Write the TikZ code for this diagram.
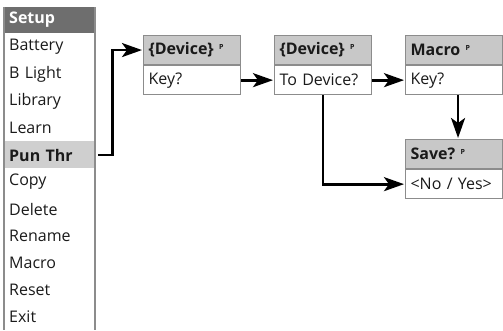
\documentclass[tikz,border=0pt]{standalone}
\usepackage{fontspec}
\setmainfont{Open Sans}
\usetikzlibrary{arrows.meta,positioning}
\definecolor{menuhead}{HTML}{6E6E6E}
\definecolor{hilite}{HTML}{CFCFCF}
\definecolor{boxgray}{HTML}{C8C8C8}
\definecolor{frame}{HTML}{8C8C8C}
\definecolor{txt}{HTML}{1A1A1A}
\newcommand{\protmark}{\ \raisebox{5pt}{\fontsize{7}{7}\selectfont\bfseries P}}

\begin{document}
\begin{tikzpicture}[x=1pt,y=-1pt,
	item/.style={anchor=west,inner sep=0pt,text width=86pt,align=left,text=txt,font=\fontsize{16}{16}\selectfont},
	boxhead/.style={draw=frame,line width=1.1pt,fill=boxgray,minimum width=97pt,minimum height=29pt,text width=87pt,inner xsep=5pt,align=left,text=txt,font=\fontsize{16}{16}\selectfont\bfseries},
	boxbody/.style={boxhead,fill=white,font=\fontsize{16}{16}\selectfont},
	link/.style={line width=2.7pt,-{Stealth[length=20pt,width=14pt,inset=5pt]},shorten >=1pt}]
					\useasboundingbox (0,0) rectangle (503,330);
					% menu
					\fill[menuhead] (4,7) rectangle (95,33);
					\fill[hilite] (4,141) rectangle (95,168);
					\draw[frame,line width=1.2pt] (4,7) -- (4,330);
					\draw[frame,line width=1.2pt] (95,7) -- (95,330);
					\path (9,20) node[item,text=white,font=\fontsize{16}{16}\selectfont\bfseries] (setup) {Setup};
					\path (9,47) node[item] (battery) {Battery};
					\path (9,74) node[item] (blight) {B Light};
					\path (9,101) node[item] (library) {Library};
					\path (9,128) node[item] (learn) {Learn};
					\path (9,155) node[item,font=\fontsize{16}{16}\selectfont\bfseries] (punthr) {Pun Thr};
					\path (9,182) node[item] (copy) {Copy};
					\path (9,209) node[item] (delete) {Delete};
					\path (9,236) node[item] (rename) {Rename};
					\path (9,263) node[item] (macro) {Macro};
					\path (9,290) node[item] (reset) {Reset};
					\path (9,317) node[item] (exit) {Exit};
					
					% screens
					\path (143,35) node[boxhead,anchor=north west] (dev1) {\{Device\}\protmark};
					\node[boxbody,below=0pt of dev1] (key1) {Key?};
					\path (274,35) node[boxhead,anchor=north west] (dev2) {\{Device\}\protmark};
					\node[boxbody,below=0pt of dev2] (todev) {To Device?};
					\path (405,35) node[boxhead,anchor=north west] (mac) {Macro\protmark};
					\node[boxbody,below=0pt of mac] (key3) {Key?};
					\path (405,139) node[boxhead,anchor=north west] (save) {Save?\protmark};
					\node[boxbody,below=0pt of save] (nosave) {<No / Yes>};
					
					% links
					\draw[link] ([xshift=3pt]punthr.east) -- ++(14,0) |- (dev1.west);
					\draw[link] (key1) -- (todev);
					\draw[link] (todev) -- (key3);
					\draw[link] ([xshift=4pt]key3.south) -- ([xshift=4pt]save.north);
					\draw[link] (todev.south) |- (nosave.west);
\end{tikzpicture}
\end{document}
